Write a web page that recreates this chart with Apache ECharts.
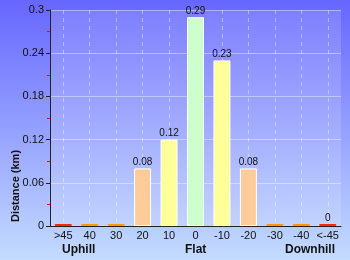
<!DOCTYPE html>
<html lang="en">
<head>
  <meta charset="UTF-8">
  <title>Gradient chart</title>
  <script src="https://cdn.jsdelivr.net/npm/echarts@6/dist/echarts.min.js"></script>
  <style>
    html, body { margin: 0; padding: 0; }
  </style>
</head>
<body>
  <div id="main" style="width: 350px;height:260px;"></div>
  <script>
    var categories = ['>45', '40', '30', '20', '10', '0', '-10', '-20', '-30', '-40', '<-45']
    var distance = [0, 0, 0, 0.08, 0.12, 0.29, 0.23, 0.08, 0, 0, 0]
    var barColors = ['#ff2a00', '#ff9900', '#ff9900', '#ffcc99', '#ffff99', '#ccffcc',
      '#ffff99', '#ffcc99', '#ff9900', '#ff9900', '#ff2a00']
    var showLabel = [false, false, false, true, true, true, true, true, false, false, true]
    var yTicks = [0, 0.06, 0.12, 0.18, 0.24, 0.3]
    var groups = ['Uphill', 'Flat', 'Downhill']

    var font = 'Liberation Sans, Arial, sans-serif'
    var myChart = echarts.init(document.getElementById('main'))

    myChart.setOption({
      animation: false,
      backgroundColor: {
        type: 'linear', x: 0, y: 0, x2: 0, y2: 1,
        colorStops: [{ offset: 0, color: '#6666ff' }, { offset: 1, color: '#c4dcff' }]
      },
      grid: {
        left: 50, right: 9, top: 10, bottom: 34,
        show: true, borderWidth: 0,
        backgroundColor: 'rgba(255,255,255,0.14)'
      },
      xAxis: [{
        type: 'category',
        data: categories,
        axisLine: { lineStyle: { color: '#222', width: 1 } },
        axisTick: { show: false },
        axisLabel: { color: '#111', fontSize: 11, fontFamily: font, margin: 4, interval: 0 },
        splitLine: { show: false }
      }, {
        // helper axis: its minor split lines fall on the category centres
        type: 'value',
        position: 'top',
        min: 0, max: categories.length, interval: 1,
        axisLine: { show: false },
        axisTick: { show: false },
        axisLabel: { show: false },
        splitLine: { show: false },
        minorTick: { show: false, splitNumber: 2 },
        minorSplitLine: { show: true, lineStyle: { color: 'rgba(255,255,255,0.4)', type: [4, 4], width: 1 } }
      }],
      yAxis: {
        type: 'value',
        min: 0, max: 0.3, interval: 0.06,
        axisLine: { show: true, lineStyle: { color: '#222', width: 1 } },
        axisTick: { show: true, length: 4, lineStyle: { color: '#222' } },
        minorTick: { show: true, splitNumber: 2, length: 3, lineStyle: { color: '#ff0000' } },
        axisLabel: {
          color: '#111', fontSize: 11, fontFamily: font, margin: 6,
          formatter: function (v) {
            var t = yTicks.find(function (x) { return Math.abs(x - v) < 1e-9 })
            return t === undefined ? '' : String(t)
          }
        },
        splitLine: { show: true, lineStyle: { color: 'rgba(255,255,255,0.4)', width: 1 } }
      },
      series: [{
        type: 'bar',
        xAxisIndex: 0,
        barWidth: 17,
        barMinHeight: 2,
        data: distance.map(function (v, i) {
          return {
            value: v,
            itemStyle: { color: barColors[i], borderColor: i >= 3 && i <= 7 ? '#ffffff' : barColors[i], borderWidth: 1 },
            label: { show: showLabel[i] }
          }
        }),
        label: {
          position: 'top', distance: 1,
          color: '#111', fontSize: 10, fontFamily: font
        }
      }],
      graphic: [
        {
          type: 'text', x: 16, y: 186, rotation: Math.PI / 2,
          style: { text: 'Distance (km)', font: 'bold 11px ' + font, fill: '#111', align: 'center', verticalAlign: 'middle' }
        },
        { type: 'text', left: 62, top: 244, style: { text: groups[0], font: 'bold 12px ' + font, fill: '#111' } },
        { type: 'text', left: 185, top: 244, style: { text: groups[1], font: 'bold 12px ' + font, fill: '#111' } },
        { type: 'text', left: 285, top: 244, style: { text: groups[2], font: 'bold 12px ' + font, fill: '#111' } }
      ]
    })
  </script>
</body>
</html>
